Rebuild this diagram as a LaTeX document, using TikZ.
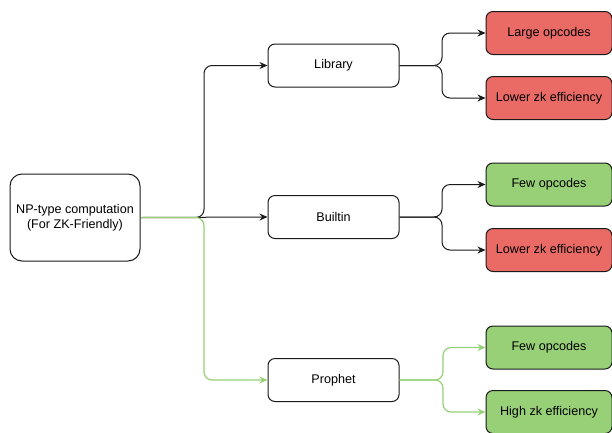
\documentclass[tikz,border=0pt]{standalone}
\usepackage{fontspec}
\setmainfont{Liberation Sans}
\usetikzlibrary{arrows.meta}
\definecolor{redfill}{HTML}{EA6B66}
\definecolor{greenfill}{HTML}{97D077}
\definecolor{greenline}{HTML}{97D077}
\definecolor{edge}{HTML}{1A1A1A}
\begin{document}
\begin{tikzpicture}[x=1pt,y=-1pt,
  every node/.style={font=\fontsize{12.6}{15}\selectfont, align=center, inner sep=0pt},
  box/.style={draw=edge, line width=1pt, rounded corners=7pt, minimum width=131pt, minimum height=43pt},
  startbox/.style={draw=edge, line width=1pt, rounded corners=12pt, minimum width=130pt, minimum height=87pt},
  bad/.style={box, fill=redfill, minimum width=126pt},
  good/.style={box, fill=greenfill, minimum width=126pt},
  link/.style={draw=edge, line width=1pt, rounded corners=8pt, -{Stealth[length=8pt,width=7pt]}},
  glink/.style={draw=greenline, line width=1.2pt, rounded corners=8pt, -{Stealth[length=8pt,width=7pt]}}
]
\useasboundingbox (0,0) rectangle (612,432);

% source node
\node[startbox] (np) at (75,217.5) {NP-type computation\\(For ZK-Friendly)};

% implementation choices
\node[box] (lib) at (333.5,65.5) {Library};
\node[box] (bui) at (333.5,217) {Builtin};
\node[box] (pro) at (333.5,380) {Prophet};

% consequences
\node[bad]  (lib1) at (549,33)  {Large opcodes};
\node[bad]  (lib2) at (549,98)  {Lower zk efficiency};
\node[good] (bui1) at (549,184.5) {Few opcodes};
\node[bad]  (bui2) at (549,250) {Lower zk efficiency};
\node[good] (pro1) at (549,347.5) {Few opcodes};
\node[good] (pro2) at (549,412) {High zk efficiency};

% fork points
\coordinate (f0) at (204,217.5);
\coordinate (fl) at (442,65.5);
\coordinate (fb) at (442,217);
\coordinate (fp) at (443,380);

% source to choices
\draw[link] (np.east) -- (f0) |- (lib.west);
\draw[link] (np.east) -- (bui.west);
\draw[glink] (np.east) -- (f0) |- (pro.west);

% choices to consequences
\draw[link] (lib.east) -- (fl) |- (lib1.west);
\draw[link] (lib.east) -- (fl) |- (lib2.west);
\draw[link] (bui.east) -- (fb) |- (bui1.west);
\draw[link] (bui.east) -- (fb) |- (bui2.west);
\draw[glink] (pro.east) -- (fp) |- (pro1.west);
\draw[glink] (pro.east) -- (fp) |- (pro2.west);
\end{tikzpicture}
\end{document}
